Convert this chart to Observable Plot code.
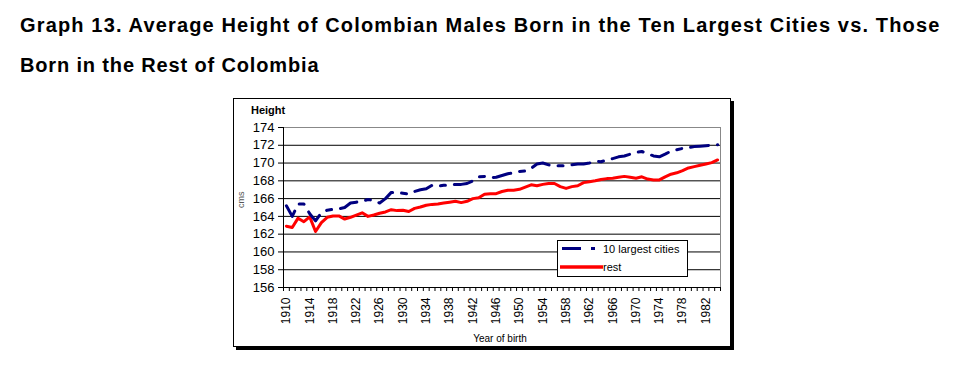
<!DOCTYPE html>
<html>
<head>
<meta charset="utf-8">
<script src="https://cdn.jsdelivr.net/npm/d3@7"></script>
<script src="https://cdn.jsdelivr.net/npm/@observablehq/plot@0.6"></script>
<style>
  html, body { margin: 0; padding: 0; background: #fff; }
  #page { position: relative; width: 977px; height: 375px; overflow: hidden; font-family: "Liberation Sans", Arial, sans-serif; }
  #title { position: absolute; left: 20px; top: 5px; font-weight: bold; font-size: 20px; letter-spacing: 0.85px; line-height: 40px; color: #000; white-space: nowrap; }
  #box { position: absolute; left: 233px; top: 98px; width: 496px; height: 247px; border: 1px solid #000; box-shadow: 3px 3px 0 #000; background: #fff; }
  #chart { position: absolute; left: 0; top: 0; }
  .lbl { position: absolute; white-space: nowrap; color: #000; }
  #legend { position: absolute; left: 557px; top: 240px; width: 129px; height: 35px; border: 1px solid #000; background: #fff; font-size: 11px; }
</style>
</head>
<body>
<div id="page">
  <div id="title"><span style="letter-spacing:1.15px;">Graph 13. Average Height of Colombian Males Born in the Ten Largest Cities vs. Those</span><br>Born in the Rest of Colombia</div>
  <div id="box"></div>
  <div id="chart"></div>
  <div class="lbl" style="left:251px; top:104px; font-size:11px; font-weight:bold;">Height</div>
  <div class="lbl" style="left:233px; top:195px; width:16px; height:10px; font-size:9px; color:#555; transform: rotate(-90deg); text-align:center; line-height:10px;">cms</div>
  <div class="lbl" style="left:450px; top:333px; width:100px; text-align:center; font-size:10px;">Year of birth</div>
  <div id="legend">
    <svg width="129" height="35" style="position:absolute;left:0;top:0;">
      <line x1="4" x2="38" y1="7.5" y2="7.5" stroke="#000080" stroke-width="3" stroke-dasharray="19,10,4,10"></line>
      <line x1="2" x2="45" y1="26" y2="26" stroke="#ff0000" stroke-width="3.5"></line>
    </svg>
    <div class="lbl" style="left:45px; top:1px; line-height:14px;">10 largest cities</div>
    <div class="lbl" style="left:45px; top:19px; line-height:14px;">rest</div>
  </div>
</div>
<script>
const years = [1910,1911,1912,1913,1914,1915,1916,1917,1918,1919,
  1920,1921,1922,1923,1924,1925,1926,1927,1928,1929,
  1930,1931,1932,1933,1934,1935,1936,1937,1938,1939,
  1940,1941,1942,1943,1944,1945,1946,1947,1948,1949,
  1950,1951,1952,1953,1954,1955,1956,1957,1958,1959,
  1960,1961,1962,1963,1964,1965,1966,1967,1968,1969,
  1970,1971,1972,1973,1974,1975,1976,1977,1978,1979,
  1980,1981,1982,1983,1984];

const largestCities = [165.2,164.0,165.4,165.4,164.3,163.5,164.4,164.7,164.8,164.85,
  165.0,165.5,165.6,165.7,165.9,165.8,165.5,166.0,166.7,166.7,
  166.6,166.5,166.8,167.0,167.1,167.5,167.4,167.5,167.5,167.6,
  167.6,167.7,168.0,168.45,168.5,168.35,168.4,168.6,168.8,168.9,
  169.05,169.1,169.4,169.9,170.0,169.8,169.7,169.7,169.7,169.8,
  169.9,169.9,170.0,170.2,170.15,170.35,170.5,170.7,170.8,171.0,
  171.2,171.3,171.05,170.8,170.7,171.0,171.35,171.5,171.65,171.75,
  171.85,171.9,171.95,172.0,172.05];

const rest = [162.9,162.75,163.8,163.4,163.95,162.3,163.3,163.9,164.05,164.05,
  163.7,163.9,164.15,164.4,164.0,164.15,164.35,164.5,164.75,164.65,
  164.7,164.55,164.9,165.05,165.25,165.35,165.4,165.5,165.6,165.7,
  165.55,165.7,166.0,166.1,166.5,166.55,166.55,166.8,166.95,166.95,
  167.05,167.3,167.55,167.45,167.6,167.7,167.7,167.35,167.15,167.35,
  167.45,167.8,167.9,168.0,168.15,168.25,168.3,168.4,168.5,168.4,
  168.3,168.45,168.2,168.1,168.1,168.45,168.75,168.9,169.15,169.45,
  169.6,169.75,169.9,170.05,170.35];

const yTicks = [156,158,160,162,164,166,168,170,172,174];
const xLabelYears = [1910,1914,1918,1922,1926,1930,1934,1938,1942,1946,1950,1954,1958,1962,1966,1970,1974,1978,1982];

const cities = years.map((y, i) => ({year: y, value: largestCities[i]}));
const restData = years.map((y, i) => ({year: y, value: rest[i]}));
const yearBounds = [...years.map(y => y - 0.5), years[years.length - 1] + 0.5];
const xMin = years[0] - 0.5, xMax = years[years.length - 1] + 0.5;

const chart = Plot.plot({
  width: 977,
  height: 375,
  marginLeft: 283,
  marginRight: 257,
  marginTop: 127,
  marginBottom: 88,
  style: {background: "transparent", fontFamily: "'Liberation Sans', Arial, sans-serif", fontSize: "13px", color: "#000", overflow: "visible"},
  x: {domain: [xMin, xMax]},
  y: {domain: [156, 174]},
  marks: [
    Plot.ruleY(yTicks.slice(1, -1), {stroke: "#000", strokeWidth: 1}),
    Plot.ruleY([174], {stroke: "#888", strokeWidth: 1}),
    Plot.ruleX([xMax], {stroke: "#888", strokeWidth: 1}),
    Plot.ruleX([xMin], {stroke: "#000", strokeWidth: 1}),
    Plot.ruleY([156], {stroke: "#000", strokeWidth: 1}),
    Plot.axisY({ticks: yTicks, tickSize: 5, tickPadding: 4, tickFormat: d => String(d), label: null, fontSize: 13}),
    Plot.axisX({ticks: yearBounds, tickSize: 4, tickFormat: () => "", label: null}),
    Plot.axisX({ticks: xLabelYears, tickSize: 0, tickPadding: 10, tickRotate: -90, textAnchor: "end", tickFormat: d => String(d), label: null, fontSize: 12}),
    Plot.line(restData, {x: "year", y: "value", stroke: "#ff0000", strokeWidth: 3}),
    Plot.line(cities, {x: "year", y: "value", stroke: "#000080", strokeWidth: 3, strokeDasharray: "18,9,5,9"})
  ]
});
document.getElementById("chart").appendChild(chart);
</script>
</body>
</html>
